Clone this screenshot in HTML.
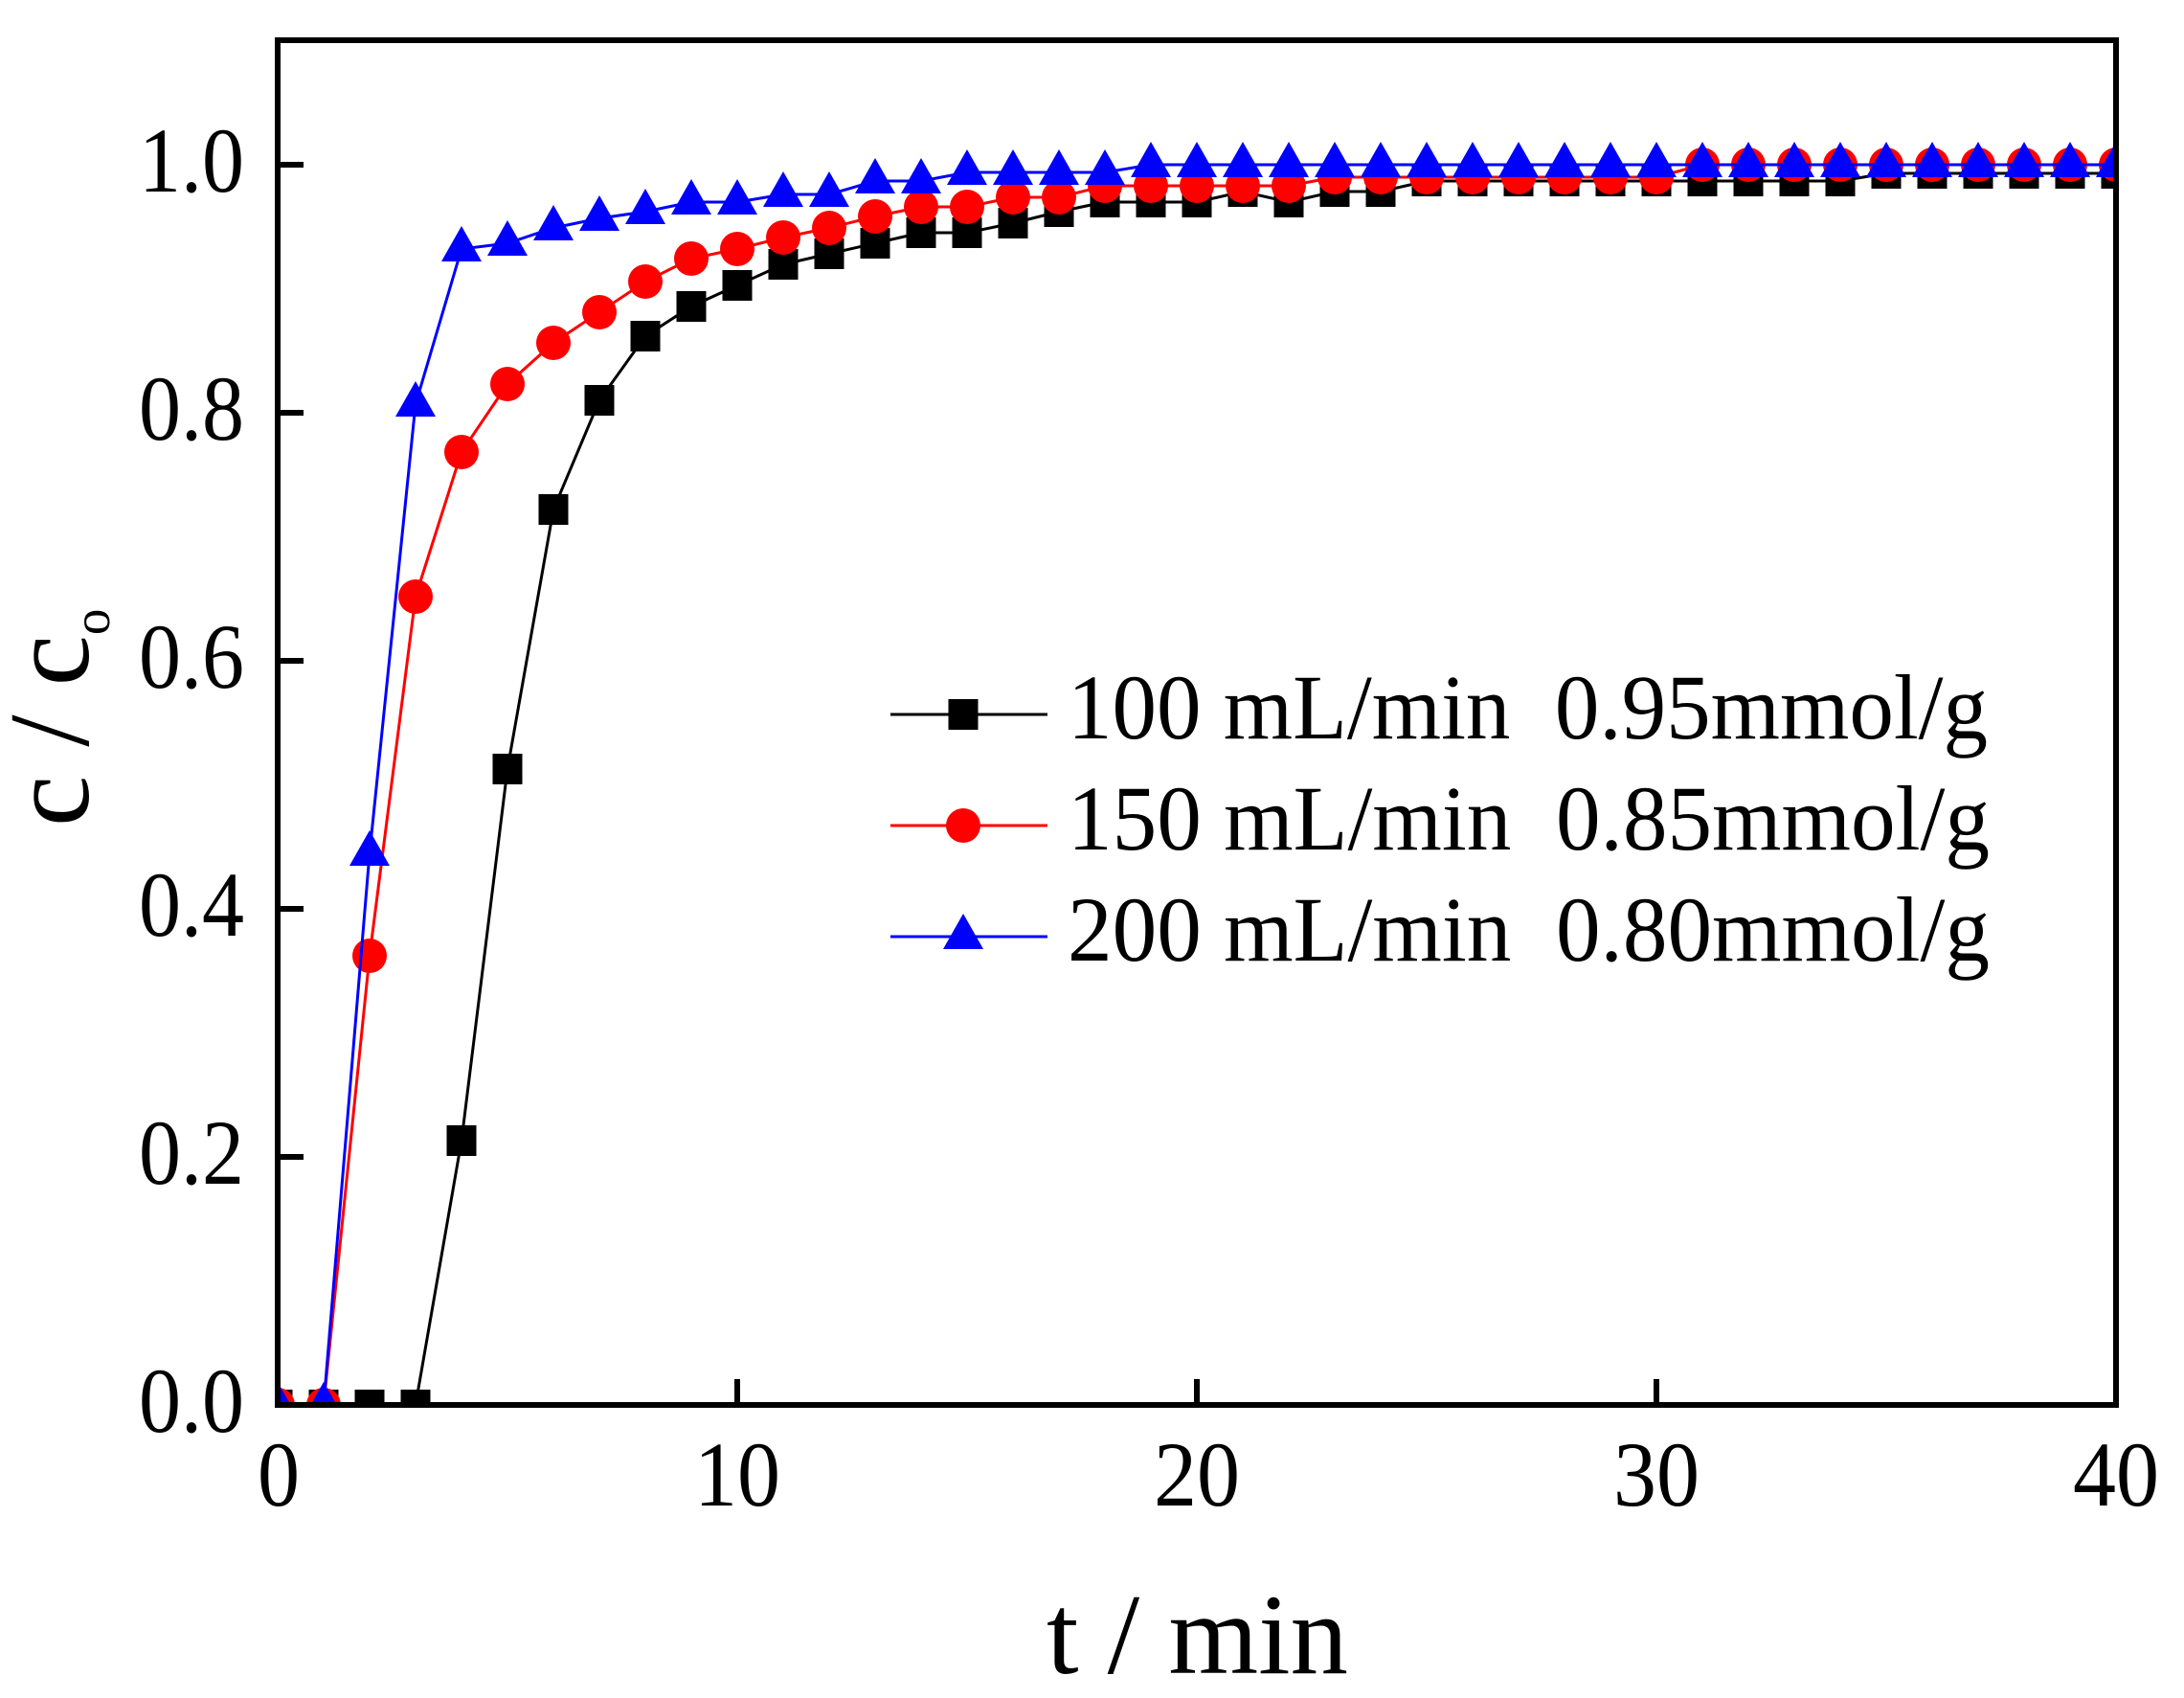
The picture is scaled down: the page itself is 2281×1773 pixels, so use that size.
<!DOCTYPE html>
<html><head><meta charset="utf-8"><style>html,body{margin:0;padding:0;background:#fff}svg{display:block}</style></head>
<body>
<svg width="2281" height="1773" viewBox="0 0 2281 1773" xmlns="http://www.w3.org/2000/svg" font-family="'Liberation Serif', serif">
<defs>
<clipPath id="c"><rect x="290" y="42" width="1920" height="1425"/></clipPath>
<rect id="sq" x="-15.5" y="-16" width="31" height="32" fill="#000"/>
<circle id="ci" r="18" fill="#f00"/>
<polygon id="tr" points="0,-24 21,13 -21,13" fill="#00f"/>
</defs>
<g clip-path="url(#c)">
<polyline fill="none" stroke="#000" stroke-width="3" points="290,1467 338,1467 386,1467 434,1467 482,1191 530,803 578,532 626,418 674,351 722,320 770,298 818,276 866,265 914,254 962,243 1010,243 1058,233 1106,221 1154,211 1202,211 1250,211 1298,200 1346,211 1394,200 1442,200 1490,189 1538,189 1586,189 1634,189 1682,189 1730,189 1778,189 1826,189 1874,189 1922,189 1970,181 2018,181 2066,181 2114,181 2162,181 2210,181"/>
<g>
<use href="#sq" x="290" y="1467"/><use href="#sq" x="338" y="1467"/><use href="#sq" x="386" y="1467"/><use href="#sq" x="434" y="1467"/><use href="#sq" x="482" y="1191"/><use href="#sq" x="530" y="803"/><use href="#sq" x="578" y="532"/><use href="#sq" x="626" y="418"/><use href="#sq" x="674" y="351"/><use href="#sq" x="722" y="320"/><use href="#sq" x="770" y="298"/><use href="#sq" x="818" y="276"/><use href="#sq" x="866" y="265"/><use href="#sq" x="914" y="254"/><use href="#sq" x="962" y="243"/><use href="#sq" x="1010" y="243"/><use href="#sq" x="1058" y="233"/><use href="#sq" x="1106" y="221"/><use href="#sq" x="1154" y="211"/><use href="#sq" x="1202" y="211"/><use href="#sq" x="1250" y="211"/><use href="#sq" x="1298" y="200"/><use href="#sq" x="1346" y="211"/><use href="#sq" x="1394" y="200"/><use href="#sq" x="1442" y="200"/><use href="#sq" x="1490" y="189"/><use href="#sq" x="1538" y="189"/><use href="#sq" x="1586" y="189"/><use href="#sq" x="1634" y="189"/><use href="#sq" x="1682" y="189"/><use href="#sq" x="1730" y="189"/><use href="#sq" x="1778" y="189"/><use href="#sq" x="1826" y="189"/><use href="#sq" x="1874" y="189"/><use href="#sq" x="1922" y="189"/><use href="#sq" x="1970" y="181"/><use href="#sq" x="2018" y="181"/><use href="#sq" x="2066" y="181"/><use href="#sq" x="2114" y="181"/><use href="#sq" x="2162" y="181"/><use href="#sq" x="2210" y="181"/>
</g>
<polyline fill="none" stroke="#f00" stroke-width="3" points="290,1467 338,1467 386,998 434,623 482,472 530,401 578,358 626,326 674,294 722,270 770,260 818,248 866,238 914,226 962,216 1010,216 1058,206 1106,206 1154,194 1202,194 1250,194 1298,194 1346,194 1394,185 1442,185 1490,185 1538,185 1586,185 1634,185 1682,185 1730,185 1778,172 1826,172 1874,172 1922,172 1970,172 2018,172 2066,172 2114,172 2162,172 2210,172"/>
<g>
<use href="#ci" x="290" y="1467"/><use href="#ci" x="338" y="1467"/><use href="#ci" x="386" y="998"/><use href="#ci" x="434" y="623"/><use href="#ci" x="482" y="472"/><use href="#ci" x="530" y="401"/><use href="#ci" x="578" y="358"/><use href="#ci" x="626" y="326"/><use href="#ci" x="674" y="294"/><use href="#ci" x="722" y="270"/><use href="#ci" x="770" y="260"/><use href="#ci" x="818" y="248"/><use href="#ci" x="866" y="238"/><use href="#ci" x="914" y="226"/><use href="#ci" x="962" y="216"/><use href="#ci" x="1010" y="216"/><use href="#ci" x="1058" y="206"/><use href="#ci" x="1106" y="206"/><use href="#ci" x="1154" y="194"/><use href="#ci" x="1202" y="194"/><use href="#ci" x="1250" y="194"/><use href="#ci" x="1298" y="194"/><use href="#ci" x="1346" y="194"/><use href="#ci" x="1394" y="185"/><use href="#ci" x="1442" y="185"/><use href="#ci" x="1490" y="185"/><use href="#ci" x="1538" y="185"/><use href="#ci" x="1586" y="185"/><use href="#ci" x="1634" y="185"/><use href="#ci" x="1682" y="185"/><use href="#ci" x="1730" y="185"/><use href="#ci" x="1778" y="172"/><use href="#ci" x="1826" y="172"/><use href="#ci" x="1874" y="172"/><use href="#ci" x="1922" y="172"/><use href="#ci" x="1970" y="172"/><use href="#ci" x="2018" y="172"/><use href="#ci" x="2066" y="172"/><use href="#ci" x="2114" y="172"/><use href="#ci" x="2162" y="172"/><use href="#ci" x="2210" y="172"/>
</g>
<polyline fill="none" stroke="#00f" stroke-width="3" points="290,1467 338,1467 386,891 434,422 482,260 530,254 578,238 626,228 674,221 722,211 770,211 818,203 866,203 914,189 962,189 1010,180 1058,180 1106,180 1154,180 1202,172 1250,172 1298,172 1346,172 1394,172 1442,172 1490,172 1538,172 1586,172 1634,172 1682,172 1730,172 1778,172 1826,172 1874,172 1922,172 1970,172 2018,172 2066,172 2114,172 2162,172 2210,172"/>
<g>
<use href="#tr" x="290" y="1467"/><use href="#tr" x="338" y="1467"/><use href="#tr" x="386" y="891"/><use href="#tr" x="434" y="422"/><use href="#tr" x="482" y="260"/><use href="#tr" x="530" y="254"/><use href="#tr" x="578" y="238"/><use href="#tr" x="626" y="228"/><use href="#tr" x="674" y="221"/><use href="#tr" x="722" y="211"/><use href="#tr" x="770" y="211"/><use href="#tr" x="818" y="203"/><use href="#tr" x="866" y="203"/><use href="#tr" x="914" y="189"/><use href="#tr" x="962" y="189"/><use href="#tr" x="1010" y="180"/><use href="#tr" x="1058" y="180"/><use href="#tr" x="1106" y="180"/><use href="#tr" x="1154" y="180"/><use href="#tr" x="1202" y="172"/><use href="#tr" x="1250" y="172"/><use href="#tr" x="1298" y="172"/><use href="#tr" x="1346" y="172"/><use href="#tr" x="1394" y="172"/><use href="#tr" x="1442" y="172"/><use href="#tr" x="1490" y="172"/><use href="#tr" x="1538" y="172"/><use href="#tr" x="1586" y="172"/><use href="#tr" x="1634" y="172"/><use href="#tr" x="1682" y="172"/><use href="#tr" x="1730" y="172"/><use href="#tr" x="1778" y="172"/><use href="#tr" x="1826" y="172"/><use href="#tr" x="1874" y="172"/><use href="#tr" x="1922" y="172"/><use href="#tr" x="1970" y="172"/><use href="#tr" x="2018" y="172"/><use href="#tr" x="2066" y="172"/><use href="#tr" x="2114" y="172"/><use href="#tr" x="2162" y="172"/><use href="#tr" x="2210" y="172"/>
</g>
</g>
<rect x="290" y="42" width="1920" height="1425" fill="none" stroke="#000" stroke-width="6"/>
<g stroke="#000" stroke-width="6">
<line x1="290" y1="172" x2="317" y2="172"/><line x1="290" y1="431" x2="317" y2="431"/><line x1="290" y1="690" x2="317" y2="690"/><line x1="290" y1="949" x2="317" y2="949"/><line x1="290" y1="1208" x2="317" y2="1208"/>
<line x1="770" y1="1467" x2="770" y2="1440"/><line x1="1250" y1="1467" x2="1250" y2="1440"/><line x1="1730" y1="1467" x2="1730" y2="1440"/>
</g>
<g font-size="96" fill="#000" text-anchor="end">
<text x="255" y="200" textLength="110" lengthAdjust="spacingAndGlyphs">1.0</text>
<text x="255" y="459" textLength="110" lengthAdjust="spacingAndGlyphs">0.8</text>
<text x="255" y="718" textLength="110" lengthAdjust="spacingAndGlyphs">0.6</text>
<text x="255" y="977" textLength="110" lengthAdjust="spacingAndGlyphs">0.4</text>
<text x="255" y="1236" textLength="110" lengthAdjust="spacingAndGlyphs">0.2</text>
<text x="255" y="1495" textLength="110" lengthAdjust="spacingAndGlyphs">0.0</text>
</g>
<g font-size="96" fill="#000">
<text x="269" y="1572" textLength="44" lengthAdjust="spacingAndGlyphs">0</text>
<text x="725" y="1572" textLength="90" lengthAdjust="spacingAndGlyphs">10</text>
<text x="1205" y="1572" textLength="90" lengthAdjust="spacingAndGlyphs">20</text>
<text x="1685" y="1572" textLength="90" lengthAdjust="spacingAndGlyphs">30</text>
<text x="2165" y="1572" textLength="90" lengthAdjust="spacingAndGlyphs">40</text>
</g>
<text x="1093" y="1747" font-size="120" textLength="315" lengthAdjust="spacingAndGlyphs">t / min</text>
<text transform="translate(92,863) rotate(-90)" font-size="120">c / c<tspan font-size="55" dy="22">o</tspan></text>
<line x1="930" y1="746" x2="1094" y2="746" stroke="#000" stroke-width="3"/>
<use href="#sq" x="1006" y="746"/>
<line x1="930" y1="862" x2="1094" y2="862" stroke="#f00" stroke-width="3"/>
<use href="#ci" x="1006" y="862"/>
<line x1="930" y1="978" x2="1094" y2="978" stroke="#00f" stroke-width="3"/>
<use href="#tr" x="1006" y="978"/>
<g font-size="96" fill="#000">
<text x="1115" y="771" textLength="961" lengthAdjust="spacingAndGlyphs" xml:space="preserve">100 mL/min  0.95mmol/g</text>
<text x="1115" y="887" textLength="963" lengthAdjust="spacingAndGlyphs" xml:space="preserve">150 mL/min  0.85mmol/g</text>
<text x="1115" y="1003" textLength="963" lengthAdjust="spacingAndGlyphs" xml:space="preserve">200 mL/min  0.80mmol/g</text>
</g>
</svg>
</body></html>
